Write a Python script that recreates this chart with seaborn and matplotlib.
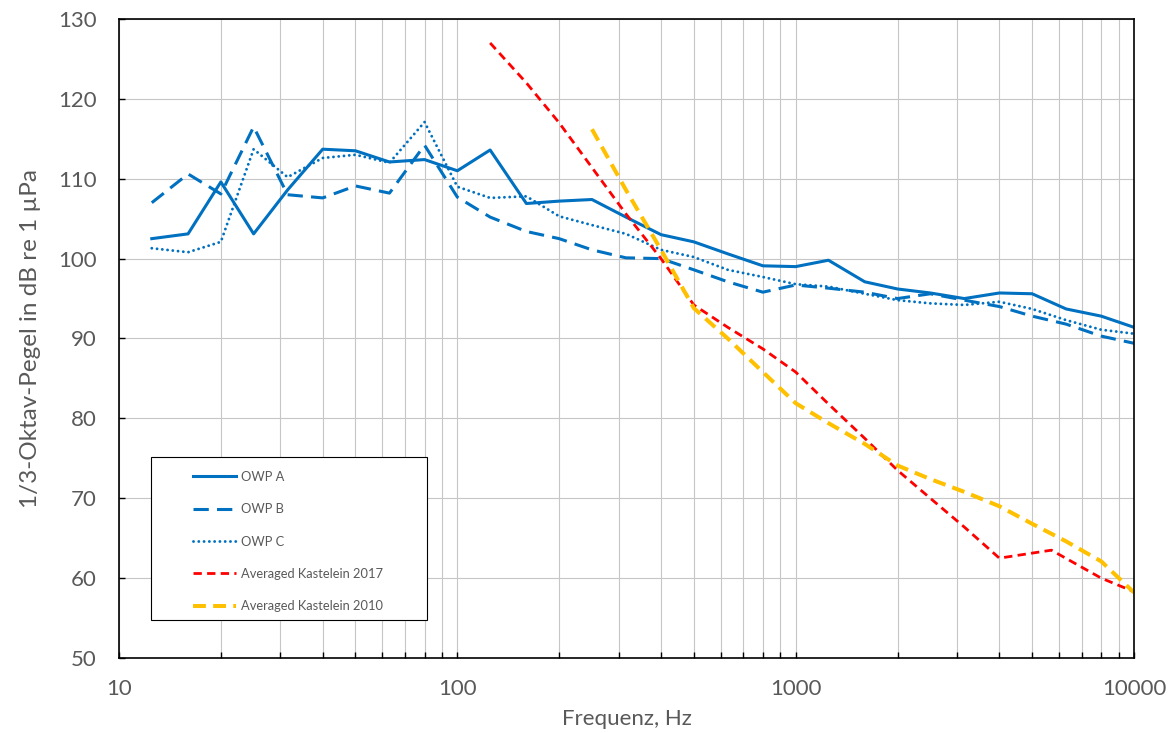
import matplotlib
matplotlib.use('Agg')
import matplotlib.pyplot as plt
import matplotlib.ticker as mticker
from matplotlib.patches import Rectangle
import pandas as pd
import seaborn as sns

# third-octave band centres
freq = [12.5, 16, 20, 25, 31.5, 40, 50, 63, 80, 100, 125, 160, 200, 250, 315,
        400, 500, 630, 800, 1000, 1250, 1600, 2000, 2500, 3150, 4000, 5000,
        6300, 8000, 10000]

owp_a = [102.5, 103.1, 109.6, 103.1, 108.6, 113.7, 113.5, 112.1, 112.4, 111.0,
         113.6, 106.9, 107.2, 107.4, 105.2, 103.0, 102.1, 100.6, 99.1, 99.0,
         99.8, 97.1, 96.2, 95.7, 95.0, 95.7, 95.6, 93.7, 92.8, 91.4]
owp_b = [107.0, 110.6, 108.1, 116.5, 108.0, 107.6, 109.1, 108.2, 114.2, 107.7,
         105.2, 103.4, 102.5, 101.1, 100.1, 100.0, 98.6, 97.1, 95.8, 96.7,
         96.3, 95.8, 95.0, 95.6, 94.8, 94.0, 92.8, 91.8, 90.3, 89.4]
owp_c = [101.3, 100.8, 102.1, 113.7, 110.2, 112.6, 113.0, 112.0, 117.1, 109.0,
         107.6, 107.8, 105.3, 104.2, 103.1, 101.1, 100.2, 98.6, 97.7, 96.8,
         96.5, 95.6, 94.8, 94.4, 94.2, 94.6, 93.7, 92.3, 91.1, 90.6]

kast17_freq = [125, 160, 200, 250, 315, 400, 500, 630, 800, 1000, 1250, 1600,
               2000, 2500, 3150, 4000, 5700, 8000, 10000]
kast17 = [127.0, 122.0, 117.0, 111.4, 105.6, 100.0, 94.2, 91.4, 88.7, 85.8,
          81.8, 77.5, 73.5, 70.0, 66.4, 62.5, 63.5, 60.0, 58.3]

kast10_freq = [250, 315, 400, 500, 630, 800, 1000, 1250, 1600, 2000, 2500,
               3150, 4000, 5000, 6300, 8000, 10000]
kast10 = [116.2, 108.6, 101.1, 93.8, 90.0, 85.8, 81.9, 79.4, 76.8, 74.1, 72.4,
          70.8, 69.0, 66.8, 64.6, 62.1, 58.2]

labels = ['OWP A', 'OWP B', 'OWP C', 'Averaged Kastelein 2017',
          'Averaged Kastelein 2010']

plt.rcParams['font.family'] = ['Lato', 'DejaVu Sans']
grey = '#595959'

fig = plt.figure(figsize=(11.76, 7.33), dpi=100)
ax = fig.add_axes([119 / 1176, 1 - 658 / 733, (1134 - 119) / 1176, (658 - 19) / 733])

blue = '#0070C0'
series = [
    (freq, owp_a, dict(color=blue, lw=2.2, linestyle='-')),
    (freq, owp_b, dict(color=blue, lw=2.2, linestyle=(0, (5, 2.7)))),
    (freq, owp_c, dict(color=blue, lw=2.1, linestyle=(0, (0.01, 1.8)), dash_capstyle='round')),
    (kast17_freq, kast17, dict(color='#FF0000', lw=2.0, linestyle=(0, (3, 1.9)))),
    (kast10_freq, kast10, dict(color='#FFC000', lw=2.9, linestyle=(0, (3.2, 1.8)))),
]
for (x, y, kw), lab in zip(series, labels):
    d = pd.DataFrame({'Frequenz': x, 'Pegel': y})
    sns.lineplot(data=d, x='Frequenz', y='Pegel', ax=ax, label=lab,
                 errorbar=None, legend=False, **kw)

ax.set_xscale('log')
ax.set_xlim(10, 10000)
ax.set_ylim(50, 130)
ax.set_yticks(range(50, 131, 10))
ax.set_xticks([10, 100, 1000, 10000])
ax.xaxis.set_major_formatter(mticker.FixedFormatter(['10', '100', '1000', '10000']))
ax.xaxis.set_minor_locator(mticker.LogLocator(base=10, subs=range(2, 10)))
ax.xaxis.set_minor_formatter(mticker.NullFormatter())

ax.grid(True, which='major', color='#c6c6c6', lw=0.8)
ax.grid(True, which='minor', axis='x', color='#c6c6c6', lw=0.8)
ax.set_axisbelow(True)

for s in ax.spines.values():
    s.set_color('black')
    s.set_linewidth(1.2)
ax.tick_params(which='both', direction='in', length=4.5, width=1.0, color='black')
ax.tick_params(axis='y', which='both', right=False)
ax.tick_params(axis='x', which='both', top=False)
ax.tick_params(axis='y', labelsize=16, labelcolor=grey, pad=16)
ax.tick_params(axis='x', labelsize=16, labelcolor=grey, pad=15)

ax.set_xlabel('Frequenz, Hz', fontsize=16, color=grey, labelpad=7)
ax.set_ylabel('1/3-Oktav-Pegel in dB re 1 µPa', fontsize=17.5, color=grey, labelpad=12)

# legend frame drawn by hand, legend itself without frame
ax.add_patch(Rectangle((0.0315, 0.0595), 0.272, 0.255, transform=ax.transAxes,
                       facecolor='white', edgecolor='black', lw=0.8, zorder=4))
leg = ax.legend(loc='upper left', bbox_to_anchor=(0.0732, 0.293), frameon=False,
                fontsize=9.3, labelcolor=grey, handlelength=3.3, handletextpad=0.4,
                labelspacing=1.58, borderpad=0, borderaxespad=0)
leg.set_zorder(5)

fig.savefig('out.png', dpi=100)
